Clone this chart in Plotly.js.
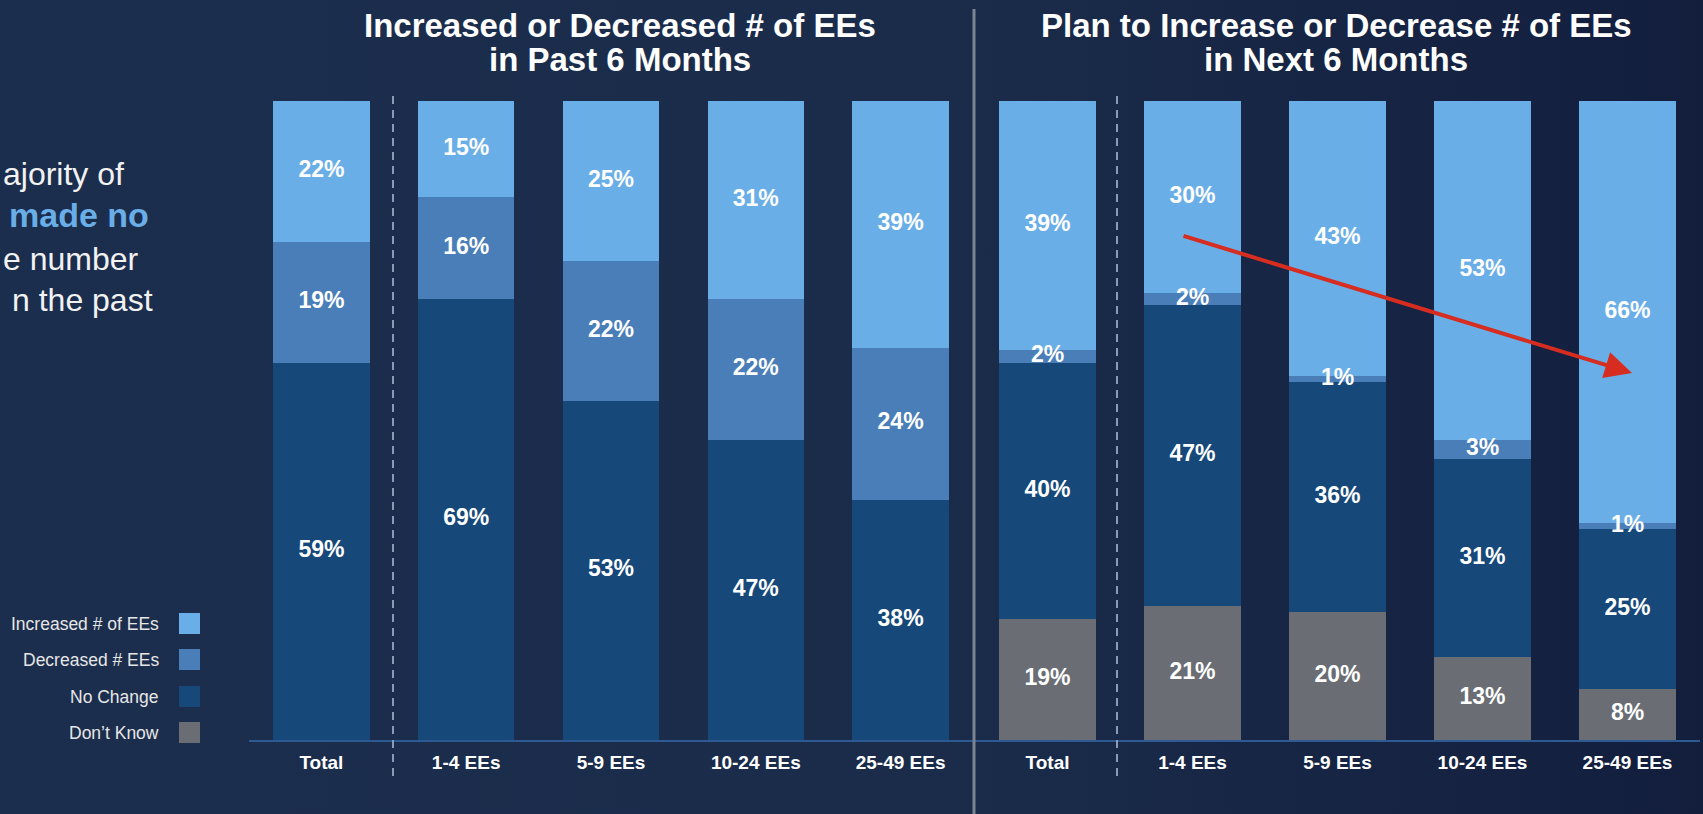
<!DOCTYPE html>
<html>
<head>
<meta charset="utf-8">
<script src="https://cdn.plot.ly/plotly-3.0.1.min.js"></script>
<style>
  html, body { margin:0; padding:0; width:1703px; height:814px; overflow:hidden;
    background: linear-gradient(90deg, #1c2e4d 0%, #1b2c4b 55%, #131e3d 100%); }
  #chart { width:1703px; height:814px; }
</style>
</head>
<body>
<div id="chart"></div>
<script>
// ---- data ----
const categories = ['Total', '1-4 EEs', '5-9 EEs', '10-24 EEs', '25-49 EEs'];

// Past 6 months
const pastNoChange  = [59, 69, 53, 47, 38];
const pastDecreased = [19, 16, 22, 22, 24];
const pastIncreased = [22, 15, 25, 31, 39];

// Next 6 months
const nextDontKnow  = [19, 21, 20, 13, 8];
const nextNoChange  = [40, 47, 36, 31, 25];
const nextDecrease  = [2, 2, 1, 3, 1];
const nextIncrease  = [39, 30, 43, 53, 66];

const seriesNames = ['Increased # of EEs', 'Decreased # EEs', 'No Change', 'Don\u2019t Know'];
const titleLeft  = ['Increased or Decreased # of EEs', 'in Past 6 Months'];
const titleRight = ['Plan to Increase or Decrease # of EEs', 'in Next 6 Months'];
const sideText = [
  {t: 'ajority of', bold: false},
  {t: 'made no', bold: true},
  {t: 'e number', bold: false},
  {t: 'n the past', bold: false}
];

// ---- styles ----
const W = 1703, H = 814;
const C_INC = '#6aaee8', C_DEC = '#4a7eb8', C_NC = '#16487a', C_DK = '#6a6e74';
const FONT = 'Liberation Sans, Arial, sans-serif';
const px = v => v / W;
const py = v => 1 - v / H;

function barTrace(vals, name, color, xa) {
  return {
    type: 'bar', x: categories, y: vals, name: name,
    xaxis: xa, yaxis: 'y',
    marker: {color: color, line: {width: 0}},
    hoverinfo: 'skip', showlegend: false
  };
}

// value labels drawn on top of all bars, centred on each (normalised) segment
function labelTraces(stack, xa) {
  const totals = categories.map((_, i) => stack.reduce((s, a) => s + a[i], 0));
  const cum = categories.map(() => 0);
  return stack.map(vals => {
    const mids = vals.map((v, i) => {
      const m = (cum[i] + v / 2) / totals[i] * 100;
      cum[i] += v;
      return m;
    });
    return {
      type: 'scatter', mode: 'text', x: categories, y: mids,
      text: vals.map(v => v + '%'), textposition: 'middle center',
      textfont: {family: FONT, size: 23, color: '#ffffff', weight: 'bold'},
      xaxis: xa, yaxis: 'y', cliponaxis: false, hoverinfo: 'skip', showlegend: false
    };
  });
}

const pastStack = [pastNoChange, pastDecreased, pastIncreased];
const nextStack = [nextDontKnow, nextNoChange, nextDecrease, nextIncrease];

const data = [
  barTrace(pastNoChange,  seriesNames[2], C_NC,  'x'),
  barTrace(pastDecreased, seriesNames[1], C_DEC, 'x'),
  barTrace(pastIncreased, seriesNames[0], C_INC, 'x'),
  barTrace(nextDontKnow,  seriesNames[3], C_DK,  'x2'),
  barTrace(nextNoChange,  seriesNames[2], C_NC,  'x2'),
  barTrace(nextDecrease,  seriesNames[1], C_DEC, 'x2'),
  barTrace(nextIncrease,  seriesNames[0], C_INC, 'x2')
].concat(labelTraces(pastStack, 'x'), labelTraces(nextStack, 'x2'));

const xCommon = {
  type: 'category', fixedrange: true,
  showline: true, linecolor: '#2d5a92', linewidth: 2,
  showgrid: false, zeroline: false,
  ticks: 'outside', ticklen: 4, tickcolor: 'rgba(0,0,0,0)',
  tickfont: {family: FONT, size: 19, color: '#ffffff', weight: 'bold'}
};

const yTop = 101, yBot = 740;

const annotations = [];
// titles
[[titleLeft, 620], [titleRight, 1336]].forEach(([lines, cx]) => {
  annotations.push({xref: 'paper', yref: 'paper', x: px(cx), y: py(25.5), xanchor: 'center', yanchor: 'middle',
    text: lines[0], showarrow: false, font: {family: FONT, size: 33, color: '#ffffff', weight: 'bold'}});
  annotations.push({xref: 'paper', yref: 'paper', x: px(cx), y: py(59.5), xanchor: 'center', yanchor: 'middle',
    text: lines[1], showarrow: false, font: {family: FONT, size: 33, color: '#ffffff', weight: 'bold'}});
});
// side text (fragment of a larger slide text, cut at the left edge in the original)
const sideLeft = [2, 8, 2, 11];
const sideY = [174, 215, 259, 300];
sideText.forEach((s, i) => {
  annotations.push({xref: 'paper', yref: 'paper', x: px(sideLeft[i]), y: py(sideY[i]),
    xanchor: 'left', yanchor: 'middle', text: s.t, showarrow: false, borderpad: 0,
    font: {family: FONT, size: s.bold ? 34 : 32, color: s.bold ? C_INC : '#f2f2f2', weight: s.bold ? 'bold' : 'normal'}});
});
// legend (text left of swatch)
const legendColors = [C_INC, C_DEC, C_NC, C_DK];
const legendY = [623.5, 659.5, 696.5, 732.5];
const shapes = [];
seriesNames.forEach((n, i) => {
  annotations.push({xref: 'paper', yref: 'paper', x: px(161), y: py(legendY[i]),
    xanchor: 'right', yanchor: 'middle', text: n, showarrow: false,
    font: {family: FONT, size: 17.5, color: '#e6e6e6'}});
  shapes.push({type: 'rect', xref: 'paper', yref: 'paper',
    x0: px(179), x1: px(200), y0: py(legendY[i] - 10.5), y1: py(legendY[i] + 10.5),
    fillcolor: legendColors[i], line: {width: 0}});
});
// trend arrow
annotations.push({xref: 'paper', yref: 'paper', x: px(1632), y: py(373),
  ax: 1182 - 1632, ay: 235.5 - 373, axref: 'pixel', ayref: 'pixel',
  text: '', showarrow: true, arrowhead: 2, arrowsize: 1.35, arrowwidth: 4,
  arrowcolor: '#d62d20', standoff: 0, startstandoff: 0});

// separator and dashed lines
shapes.push({type: 'line', xref: 'paper', yref: 'paper', x0: px(974), x1: px(974), y0: py(9), y1: 0,
  line: {color: '#7c8491', width: 3}});
[393, 1117].forEach(x => shapes.push({type: 'line', xref: 'paper', yref: 'paper',
  x0: px(x), x1: px(x), y0: py(96), y1: py(777), line: {color: '#8b9bb5', width: 2, dash: '8px,6px'}}));

const layout = {
  width: W, height: H,
  margin: {l: 0, r: 0, t: 0, b: 0},
  paper_bgcolor: 'rgba(0,0,0,0)', plot_bgcolor: 'rgba(0,0,0,0)',
  barmode: 'stack', barnorm: 'percent', bargap: 0.334,
  showlegend: false,
  xaxis: Object.assign({}, xCommon, {domain: [px(249), px(973)], anchor: 'y'}),
  xaxis2: Object.assign({}, xCommon, {domain: [px(975), px(1700)], anchor: 'y'}),
  yaxis: {domain: [py(yBot), py(yTop)], range: [0, 100], visible: false, fixedrange: true},
  annotations: annotations,
  shapes: shapes,
  font: {family: FONT, color: '#ffffff'}
};

Plotly.newPlot('chart', data, layout, {displayModeBar: false, staticPlot: true});
</script>
</body>
</html>
